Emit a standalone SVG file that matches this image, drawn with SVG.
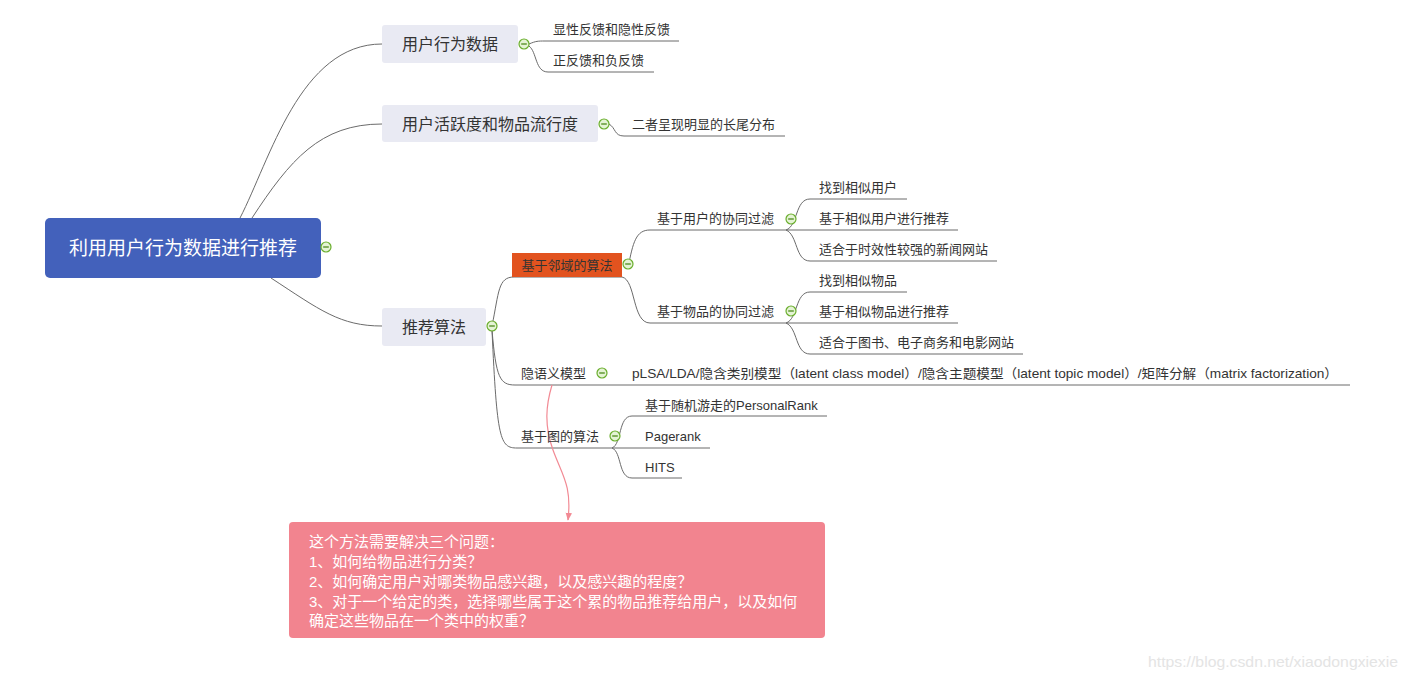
<svg xmlns="http://www.w3.org/2000/svg" width="1409" height="680" viewBox="0 0 1409 680">
<defs>
<style>
text{font-family:"Liberation Sans","Noto Sans CJK SC",sans-serif;fill:#333}
.root{font-size:19px;fill:#fff}
.l1{font-size:16px}
.l2{font-size:13px}
.note{font-size:15px;fill:#fff}
.ln{fill:none;stroke:#6b6b6b;stroke-width:1}
.box1{fill:#E9EAF3}
</style>
<symbol id="tog" viewBox="-6 -6 12 12" overflow="visible">
<circle r="5" fill="#e4f3d4" stroke="#6aae2d" stroke-width="1.2"/>
<line x1="-2.8" y1="0" x2="2.8" y2="0" stroke="#4d8a1c" stroke-width="1.3"/>
</symbol>
<marker id="arr" viewBox="0 0 10 10" refX="9" refY="5" markerWidth="8" markerHeight="8" orient="auto-start-reverse" markerUnits="userSpaceOnUse">
<path d="M0,1 L10,5 L0,9 Z" fill="#F28A94"/>
</marker>
</defs>
<rect width="1409" height="680" fill="#fff"/>

<g id="connectors">
<path class="ln" d="M240,218 C270,160 300,44 382,44"/>
<path class="ln" d="M252,218 C290,160 320,124 382,124"/>
<path class="ln" d="M271,278 C320,310 340,326 382,326"/>
<path class="ln" d="M529,44 C536,41 538,41 545,41 L679,41"/>
<path class="ln" d="M529,46 C537,52 535,72 548,72 L654,72"/>
<path class="ln" d="M609,124 C616,128 614,136 624,136 L785,136"/>
<path class="ln" d="M492,326 C499,292 498,277 514,277 L622,277"/>
<path class="ln" d="M492,330 C496,378 500,385 515,385 L1350,385"/>
<path class="ln" d="M492,330 C497,440 500,448 517,448 L710,448"/>
<path class="ln" d="M628,268 C633,242 636,230 650,230 L786,230"/>
<path class="ln" d="M622,277 C636,280 632,323 650,323 L786,323"/>
<path class="ln" d="M786,230 C798,226 795,199 810,199 L907,199"/>
<path class="ln" d="M786,230 L958,230"/>
<path class="ln" d="M786,230 C798,235 795,261 810,261 L997,261"/>
<path class="ln" d="M786,323 C798,319 795,292 810,292 L907,292"/>
<path class="ln" d="M786,323 L958,323"/>
<path class="ln" d="M786,323 C798,328 795,354 810,354 L1023,354"/>
<path class="ln" d="M612,448 C622,444 618,416 632,416 L827,416"/>
<path class="ln" d="M612,448 C622,452 618,478 632,478 L682,478"/>
<path d="M552,385 C546,405 544,425 553,450 C562,475 572,485 568,520" fill="none" stroke="#F28A94" stroke-width="1.2" marker-end="url(#arr)"/>
</g>

<g id="root">
<rect x="45" y="218" width="276" height="60" rx="5" fill="#4361BB"/>
<text class="root" x="183" y="255" text-anchor="middle">利用用户行为数据进行推荐</text>
<use href="#tog" x="320" y="241" width="12" height="12"/>
</g>

<g id="n-behavior">
<rect class="box1" x="382" y="25" width="136" height="38" rx="3"/>
<text class="l1" x="450" y="50" text-anchor="middle">用户行为数据</text>
<use href="#tog" x="518" y="38" width="12" height="12"/>
</g>
<g id="n-fb1"><text class="l2" x="553" y="34">显性反馈和隐性反馈</text></g>
<g id="n-fb2"><text class="l2" x="553" y="65">正反馈和负反馈</text></g>

<g id="n-activity">
<rect class="box1" x="382" y="105" width="216" height="37" rx="3"/>
<text class="l1" x="490" y="130" text-anchor="middle">用户活跃度和物品流行度</text>
<use href="#tog" x="598" y="118" width="12" height="12"/>
</g>
<g id="n-longtail"><text class="l2" x="632" y="129">二者呈现明显的长尾分布</text></g>

<g id="n-algo">
<rect class="box1" x="382" y="308" width="104" height="38" rx="3"/>
<text class="l1" x="434" y="333" text-anchor="middle">推荐算法</text>
<use href="#tog" x="486" y="320" width="12" height="12"/>
</g>

<g id="n-neighbor">
<rect x="512" y="253" width="110" height="24" fill="#E2531F"/>
<text class="l2" x="567" y="270" text-anchor="middle">基于邻域的算法</text>
<use href="#tog" x="622" y="258" width="12" height="12"/>
</g>

<g id="n-usercf">
<text class="l2" x="657" y="223">基于用户的协同过滤</text>
<use href="#tog" x="785" y="213" width="12" height="12"/>
</g>
<g id="n-u1"><text class="l2" x="819" y="192">找到相似用户</text></g>
<g id="n-u2"><text class="l2" x="819" y="223">基于相似用户进行推荐</text></g>
<g id="n-u3"><text class="l2" x="819" y="254">适合于时效性较强的新闻网站</text></g>

<g id="n-itemcf">
<text class="l2" x="657" y="316">基于物品的协同过滤</text>
<use href="#tog" x="785" y="305" width="12" height="12"/>
</g>
<g id="n-i1"><text class="l2" x="819" y="285">找到相似物品</text></g>
<g id="n-i2"><text class="l2" x="819" y="316">基于相似物品进行推荐</text></g>
<g id="n-i3"><text class="l2" x="819" y="347">适合于图书、电子商务和电影网站</text></g>

<g id="n-lfm">
<text class="l2" x="521" y="378">隐语义模型</text>
<use href="#tog" x="596" y="367" width="12" height="12"/>
</g>
<g id="n-plsa"><text class="l2" x="632" y="378" textLength="706" lengthAdjust="spacingAndGlyphs">pLSA/LDA/隐含类别模型（latent class model）/隐含主题模型（latent topic model）/矩阵分解（matrix factorization）</text></g>

<g id="n-graph">
<text class="l2" x="521" y="441">基于图的算法</text>
<use href="#tog" x="609" y="430" width="12" height="12"/>
</g>
<g id="n-g1"><text class="l2" x="645" y="410">基于随机游走的PersonalRank</text></g>
<g id="n-g2"><text class="l2" x="645" y="441">Pagerank</text></g>
<g id="n-g3"><text class="l2" x="645" y="472">HITS</text></g>

<g id="n-note">
<rect x="289" y="522" width="536" height="116" rx="4" fill="#F2848F"/>
<text class="note" x="309" y="547">这个方法需要解决三个问题：</text>
<text class="note" x="309" y="567">1、如何给物品进行分类？</text>
<text class="note" x="309" y="587">2、如何确定用户对哪类物品感兴趣，以及感兴趣的程度？</text>
<text class="note" x="309" y="607">3、对于一个给定的类，选择哪些属于这个累的物品推荐给用户，以及如何</text>
<text class="note" x="309" y="626">确定这些物品在一个类中的权重？</text>
</g>

<text x="1148" y="667" font-size="15" textLength="250" lengthAdjust="spacingAndGlyphs" style="fill:#e4e4e4;font-family:'Liberation Sans',sans-serif">https://blog.csdn.net/xiaodongxiexie</text>
</svg>
